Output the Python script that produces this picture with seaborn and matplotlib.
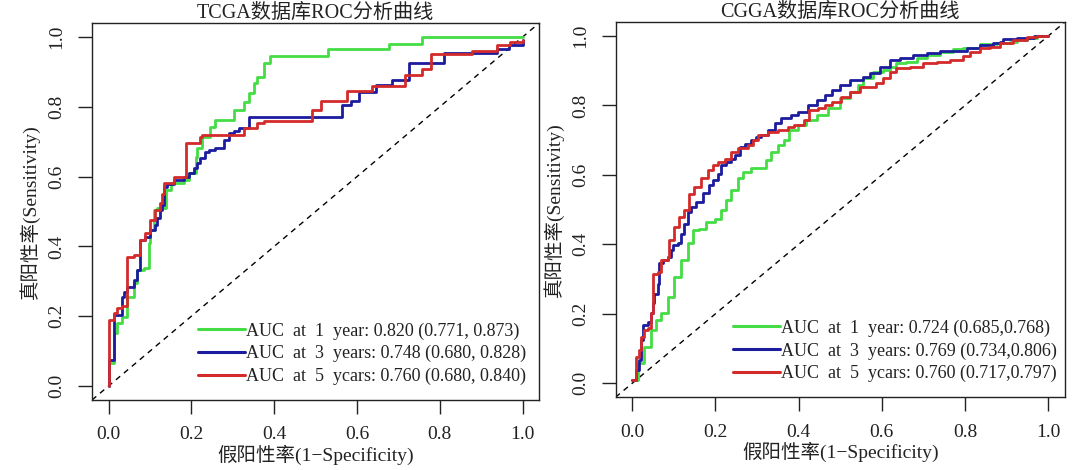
import numpy as np
import pandas as pd
import matplotlib
matplotlib.use('Agg')
import matplotlib.pyplot as plt
import seaborn as sns

sns.set_style("ticks")
plt.rcParams['font.family'] = ['Liberation Serif', 'Noto Sans CJK SC']

# ---------------------------------------------------------------------------
# Data (FPR, TPR corner points of the step curves)
# ---------------------------------------------------------------------------
tcga_fpr_1y = [0, 0, 0.013, 0.021, 0.033, 0.045, 0.061, 0.069, 0.085, 0.097, 0.101, 0.109, 0.118,
               0.138, 0.150, 0.182, 0.194, 0.210, 0.214, 0.226, 0.246, 0.258, 0.303, 0.327, 0.339,
               0.351, 0.359, 0.375, 0.391, 0.531, 0.677, 0.758, 1.0]
tcga_tpr_1y = [0, 0.065, 0.151, 0.180, 0.199, 0.256, 0.294, 0.332, 0.337, 0.409, 0.447, 0.504, 0.509,
               0.562, 0.581, 0.590, 0.609, 0.657, 0.681, 0.714, 0.743, 0.762, 0.791, 0.815, 0.839,
               0.867, 0.886, 0.925, 0.946, 0.966, 0.980, 1.0, 1.0]

tcga_fpr_3y = [0, 0, 0.013, 0.033, 0.037, 0.045, 0.061, 0.069, 0.077, 0.089, 0.101, 0.113, 0.117,
               0.125, 0.130, 0.134, 0.142, 0.158, 0.182, 0.194, 0.206, 0.214, 0.222, 0.234, 0.242,
               0.258, 0.278, 0.290, 0.302, 0.314, 0.339, 0.564, 0.585, 0.605, 0.645, 0.685, 0.725,
               0.810, 0.939, 0.967, 1.0]
tcga_tpr_3y = [0, 0.074, 0.203, 0.256, 0.270, 0.285, 0.304, 0.332, 0.418, 0.428, 0.447, 0.461, 0.480,
               0.504, 0.520, 0.571, 0.580, 0.590, 0.600, 0.610, 0.624, 0.640, 0.652, 0.671, 0.676,
               0.681, 0.705, 0.724, 0.730, 0.738, 0.771, 0.805, 0.817, 0.843, 0.862, 0.877, 0.925,
               0.955, 0.967, 0.977, 0.990]

tcga_fpr_5y = [0, 0, 0.013, 0.021, 0.033, 0.045, 0.061, 0.077, 0.089, 0.101, 0.113, 0.125, 0.130,
               0.134, 0.158, 0.186, 0.222, 0.226, 0.327, 0.359, 0.375, 0.492, 0.512, 0.577, 0.637,
               0.717, 0.758, 0.778, 0.878, 0.939, 0.970, 1.0]
tcga_tpr_5y = [0, 0.189, 0.208, 0.223, 0.230, 0.370, 0.375, 0.418, 0.437, 0.476, 0.504, 0.523, 0.550,
               0.581, 0.600, 0.695, 0.714, 0.719, 0.738, 0.753, 0.760, 0.791, 0.817, 0.846, 0.859,
               0.891, 0.907, 0.951, 0.960, 0.977, 0.986, 0.990]

cgga_fpr_1y = [0, 0.013, 0.029, 0.045, 0.057, 0.069, 0.085, 0.101, 0.117, 0.133, 0.145, 0.161, 0.177,
               0.198, 0.214, 0.226, 0.238, 0.254, 0.266, 0.286, 0.310, 0.322, 0.334, 0.350, 0.366,
               0.378, 0.398, 0.418, 0.443, 0.471, 0.499, 0.523, 0.543, 0.555, 0.579, 0.603, 0.619,
               0.635, 0.659, 0.684, 0.708, 0.740, 0.772, 0.796, 0.836, 0.876, 0.908, 0.924, 0.949,
               0.973, 1.0]
cgga_tpr_1y = [0.009, 0.057, 0.105, 0.153, 0.182, 0.201, 0.249, 0.307, 0.355, 0.403, 0.441, 0.445,
               0.465, 0.474, 0.498, 0.527, 0.556, 0.590, 0.609, 0.619, 0.619, 0.643, 0.667, 0.686,
               0.700, 0.729, 0.744, 0.758, 0.772, 0.792, 0.822, 0.840, 0.859, 0.878, 0.897, 0.902,
               0.912, 0.921, 0.926, 0.936, 0.945, 0.955, 0.963, 0.966, 0.976, 0.980, 0.982, 0.988,
               0.995, 1.0, 1.0]

cgga_fpr_3y = [0, 0.009, 0.017, 0.021, 0.025, 0.037, 0.045, 0.049, 0.053, 0.061, 0.065, 0.073, 0.085,
               0.093, 0.097, 0.109, 0.117, 0.125, 0.133, 0.141, 0.153, 0.169, 0.185, 0.193, 0.206,
               0.214, 0.226, 0.238, 0.246, 0.258, 0.270, 0.286, 0.298, 0.310, 0.326, 0.342, 0.358,
               0.382, 0.398, 0.422, 0.443, 0.463, 0.479, 0.499, 0.523, 0.555, 0.571, 0.595, 0.619,
               0.643, 0.675, 0.708, 0.740, 0.780, 0.804, 0.836, 0.868, 0.884, 0.892, 0.924, 0.940,
               0.965, 1.0]
cgga_tpr_3y = [0.009, 0.037, 0.066, 0.124, 0.167, 0.177, 0.201, 0.230, 0.258, 0.287, 0.345, 0.355,
               0.364, 0.383, 0.398, 0.403, 0.431, 0.460, 0.494, 0.508, 0.522, 0.547, 0.570, 0.585,
               0.604, 0.628, 0.638, 0.647, 0.657, 0.681, 0.690, 0.700, 0.710, 0.715, 0.729, 0.748,
               0.763, 0.772, 0.782, 0.801, 0.816, 0.830, 0.844, 0.860, 0.873, 0.883, 0.893, 0.912,
               0.931, 0.936, 0.945, 0.950, 0.957, 0.957, 0.964, 0.974, 0.979, 0.984, 0.991, 0.993,
               0.995, 1.0, 1.0]

cgga_fpr_5y = [0, 0.009, 0.017, 0.021, 0.029, 0.037, 0.045, 0.049, 0.061, 0.069, 0.085, 0.089, 0.101,
               0.113, 0.125, 0.137, 0.149, 0.165, 0.181, 0.193, 0.206, 0.222, 0.238, 0.254, 0.278,
               0.290, 0.302, 0.326, 0.350, 0.374, 0.390, 0.414, 0.426, 0.446, 0.463, 0.479, 0.501,
               0.523, 0.547, 0.587, 0.603, 0.619, 0.635, 0.667, 0.700, 0.732, 0.764, 0.796, 0.812,
               0.836, 0.860, 0.884, 0.916, 0.949, 0.973, 1.0]
cgga_tpr_5y = [0.009, 0.076, 0.095, 0.134, 0.153, 0.158, 0.201, 0.316, 0.321, 0.355, 0.364, 0.412,
               0.450, 0.479, 0.498, 0.546, 0.566, 0.590, 0.614, 0.628, 0.638, 0.647, 0.667, 0.676,
               0.686, 0.700, 0.715, 0.724, 0.729, 0.739, 0.744, 0.758, 0.787, 0.792, 0.801, 0.811,
               0.825, 0.840, 0.854, 0.864, 0.878, 0.897, 0.907, 0.912, 0.921, 0.926, 0.931, 0.941,
               0.955, 0.964, 0.969, 0.979, 0.988, 0.998, 1.0, 1.0]

tcga_labels = ['AUC  at  1  year: 0.820 (0.771, 0.873)',
               'AUC  at  3  years: 0.748 (0.680, 0.828)',
               'AUC  at  5  ycars: 0.760 (0.680, 0.840)']
cgga_labels = ['AUC  at  1  year: 0.724 (0.685,0.768)',
               'AUC  at  3  years: 0.769 (0.734,0.806)',
               'AUC  at  5  ycars: 0.760 (0.717,0.797)']

curve_colors = ['#45dd45', '#1c1c9e', '#d42a2a']
ticks = [0.0, 0.2, 0.4, 0.6, 0.8, 1.0]
tick_labels = ['0.0', '0.2', '0.4', '0.6', '0.8', '1.0']


def draw_panel(ax, curves, labels, title, leg_x):
    # reference diagonal
    ax.axline((0, 0), slope=1, color='black', lw=1.0, ls=(0, (4, 3.5)), zorder=1)
    for (fpr, tpr), lab, col in zip(curves, labels, curve_colors):
        df = pd.DataFrame({'fpr': fpr, 'tpr': tpr})
        sns.lineplot(data=df, x='fpr', y='tpr', ax=ax, color=col, lw=2.0,
                     drawstyle='steps-post', sort=False, estimator=None, label=lab, zorder=2)
    ax.set_xlim(-0.04, 1.04)
    ax.set_ylim(-0.04, 1.04)
    ax.set_xticks(ticks)
    ax.set_xticklabels(tick_labels)
    ax.set_yticks(ticks)
    ax.set_yticklabels(tick_labels, rotation=90, va='center')
    ax.tick_params(direction='out', length=10, width=1, pad=9, labelsize=14, colors='#222222')
    for sp in ax.spines.values():
        sp.set_linewidth(1.0)
        sp.set_color('#222222')
    ax.set_title(title, fontsize=14.5, pad=4, color='#222222')
    ax.set_xlabel('假阳性率(1−Specificity)', fontsize=14, labelpad=1, color='#222222')
    ax.set_ylabel('真阳性率(Sensitivity)', fontsize=14, labelpad=6, color='#222222')
    leg = ax.legend(loc='lower right', bbox_to_anchor=(leg_x, 0.03), frameon=False,
                    fontsize=13, handlelength=2.6, handletextpad=0.05,
                    labelspacing=0.3, borderaxespad=0, borderpad=0.2)
    for line in leg.get_lines():
        line.set_linewidth(2.2)
    for t in leg.get_texts():
        t.set_color('#222222')


fig = plt.figure(figsize=(10.8, 4.7), dpi=100)
ax1 = fig.add_axes([0.0852, 0.149, 0.414, 0.802])
ax2 = fig.add_axes([0.570, 0.155, 0.416, 0.798])

draw_panel(ax1, [(tcga_fpr_1y, tcga_tpr_1y), (tcga_fpr_3y, tcga_tpr_3y), (tcga_fpr_5y, tcga_tpr_5y)],
           tcga_labels, 'TCGA数据库ROC分析曲线', 0.978)
draw_panel(ax2, [(cgga_fpr_1y, cgga_tpr_1y), (cgga_fpr_3y, cgga_tpr_3y), (cgga_fpr_5y, cgga_tpr_5y)],
           cgga_labels, 'CGGA数据库ROC分析曲线', 0.99)

fig.savefig('out.png', dpi=100)
plt.close(fig)
